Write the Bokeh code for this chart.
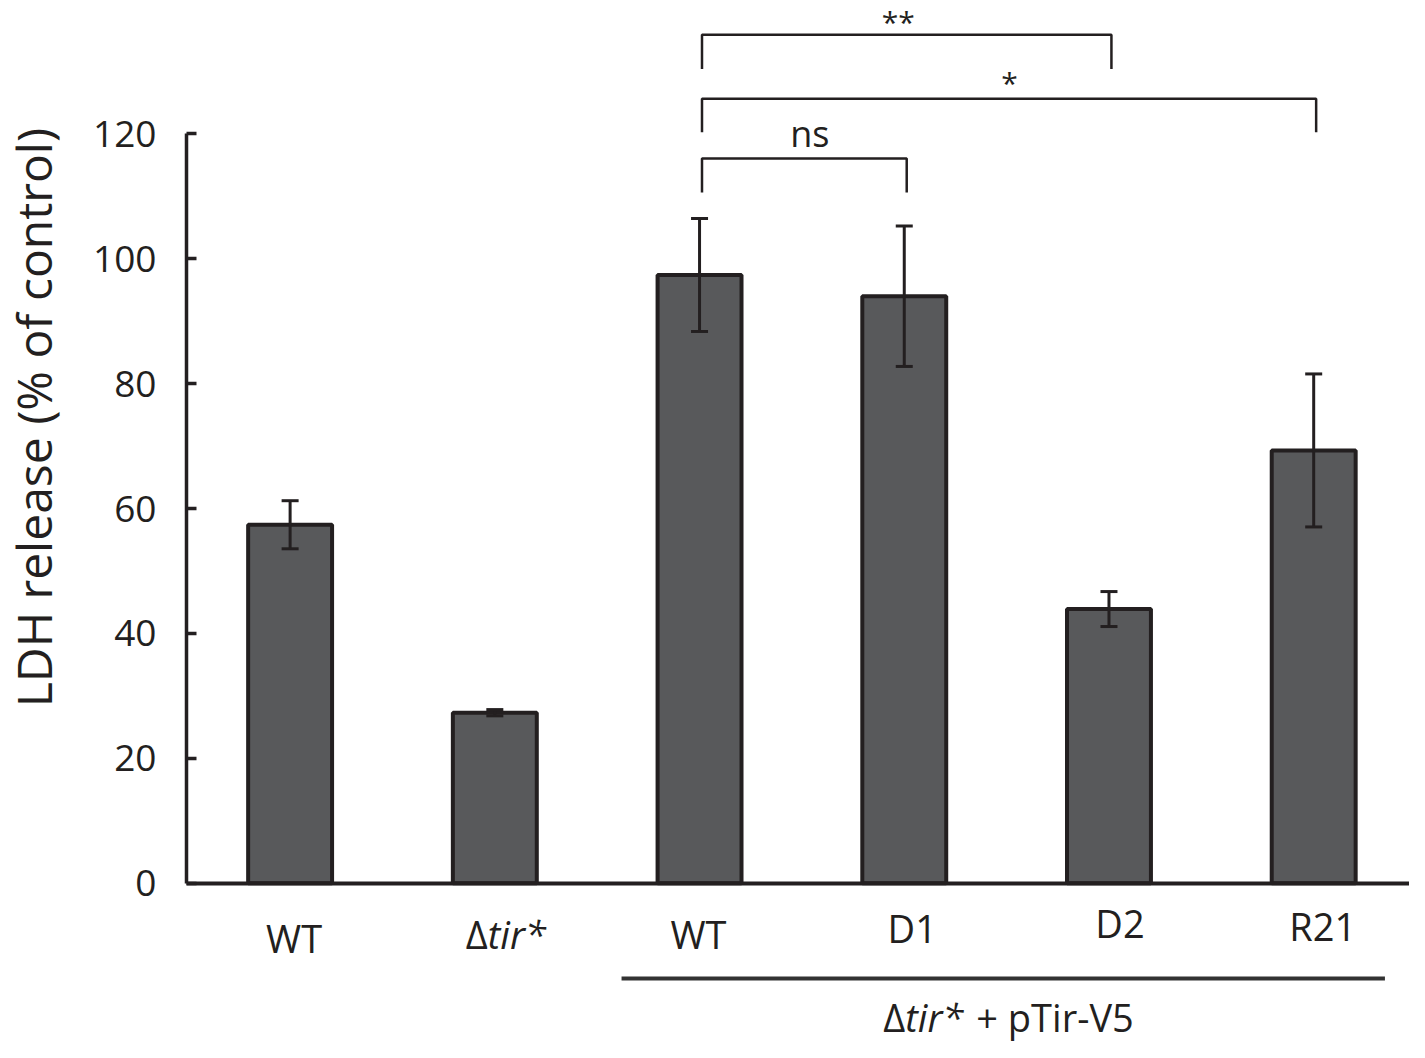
from bokeh.plotting import figure
from bokeh.models import ColumnDataSource, Whisker, TeeHead, FixedTicker, Range1d
from bokeh.core.properties import value
from bokeh.embed import file_html
from bokeh.resources import INLINE
import math

# ---- data ----
categories = ["WT", "\u0394tir*", "WT", "D1", "D2", "R21"]
ldh_mean = [57.4, 27.3, 97.4, 94.0, 43.9, 69.3]
ldh_err = [3.85, 0.5, 9.05, 11.25, 2.8, 12.25]
y_ticks = [0, 20, 40, 60, 80, 100, 120]
y_title = "LDH release (% of control)"
group_label = "\u0394tir* + pTir-V5"
comparisons = [(3, 4, "ns"), (3, 6, "*"), (3, 5, "**")]

# ---- styles / layout ----
DARK = "#231f20"
FILL = "#58595b"
FONT = value("Open Sans")
X0 = 0.494  # left end of the category axis

xs = list(range(1, len(categories) + 1))
src = ColumnDataSource(dict(
    x=xs, top=ldh_mean,
    upper=[m + e for m, e in zip(ldh_mean, ldh_err)],
    lower=[m - e for m, e in zip(ldh_mean, ldh_err)],
))

p = figure(width=1409, height=1042, output_backend="svg", toolbar_location=None,
           x_range=Range1d(-0.4147, 6.468), y_range=Range1d(-25.51, 141.35),
           min_border_left=0, min_border_right=0, min_border_top=0, min_border_bottom=0)
p.outline_line_color = None
p.grid.visible = False
p.background_fill_color = "white"

p.vbar(x="x", top="top", bottom=0, width=0.41, source=src,
       fill_color=FILL, line_color=DARK, line_width=4)

p.add_layout(Whisker(base="x", upper="upper", lower="lower", source=src, level="overlay",
                     line_color=DARK, line_width=3,
                     upper_head=TeeHead(size=17, line_color=DARK, line_width=3),
                     lower_head=TeeHead(size=17, line_color=DARK, line_width=3)))

# y axis, drawn at the left end of the category axis
ya = p.yaxis[0]
ya.fixed_location = X0
ya.ticker = FixedTicker(ticks=y_ticks)
ya.bounds = (0, 120)
ya.major_tick_in = 10
ya.major_tick_out = 0
ya.minor_tick_in = 0
ya.minor_tick_out = 0
ya.axis_line_width = 3.5
ya.axis_line_color = DARK
ya.major_tick_line_width = 3.5
ya.major_tick_line_color = DARK
ya.major_label_standoff = 30
ya.major_label_text_font = "Open Sans"
ya.major_label_text_font_size = "37px"
ya.major_label_text_color = DARK

# x axis at y=0
xa = p.xaxis[0]
xa.fixed_location = 0
xa.bounds = (X0, 6.468)
xa.ticker = FixedTicker(ticks=[])
xa.major_tick_in = 0
xa.major_tick_out = 0
xa.minor_tick_in = 0
xa.minor_tick_out = 0
xa.major_label_text_font_size = "0px"
xa.axis_line_width = 4
xa.axis_line_color = DARK

def txt(x, y, s, size, dx=0, align="center", italic=False):
    fs = int(size)
    p.text(x=[x], y=[y], text=[s], x_offset=dx, y_offset=-round(0.4 * fs),
           text_font=FONT, text_font_size=f"{fs}px",
           text_font_style="italic" if italic else "normal",
           text_color=DARK, text_align=align, text_baseline="alphabetic")

# y axis title
p.text(x=[-0.2534], y=[74.57], text=[y_title], angle=math.pi / 2,
       text_font=FONT, text_font_size="48px", text_color=DARK,
       text_align="center", text_baseline="alphabetic")

# category labels (layout offsets in px, baselines in data units)
lab_dx = [4, -7, -1, 8, 11, 9]
lab_base = [-11.10, -10.46, -10.46, -9.50, -8.70, -9.18]
for x, lab, dx, yb in zip(xs, categories, lab_dx, lab_base):
    if lab.startswith("\u0394"):
        txt(x, yb, "\u0394", 38, dx, "right")
        txt(x, yb, lab[1:], 38, dx, "left", italic=True)
    else:
        txt(x, yb, lab, 38, dx, "center")

# group line and label
p.line(x=[2.619, 6.348], y=[-15.26, -15.26], line_color="#333333", line_width=4)
gy = -23.9
txt(4.0, gy, group_label[0], 38, 1, "right")
txt(4.0, gy, group_label[1:5], 38, 1, "left", italic=True)
txt(4.0, gy, group_label[6:], 38, 72, "left")

# significance brackets
br_top = [116.05, 125.6, 135.85]
br_bot = [110.6, 120.25, 130.4]
txt_y = [117.8, 126.3, 136.1]
txt_dx = [8, 3, -6]
txt_size = [36, 30, 30]
for (a, b, t), yt, yb, ty, dx, fs in zip(comparisons, br_top, br_bot, txt_y, txt_dx, txt_size):
    x1, x2 = a + 0.012, b + 0.012
    p.multi_line(xs=[[x1, x1, x2, x2]], ys=[[yb, yt, yt, yb]], line_color=DARK, line_width=2.5)
    txt((a + b) / 2, ty, t, fs, dx, "center")

open("out.html", "w").write(file_html(p, INLINE))
